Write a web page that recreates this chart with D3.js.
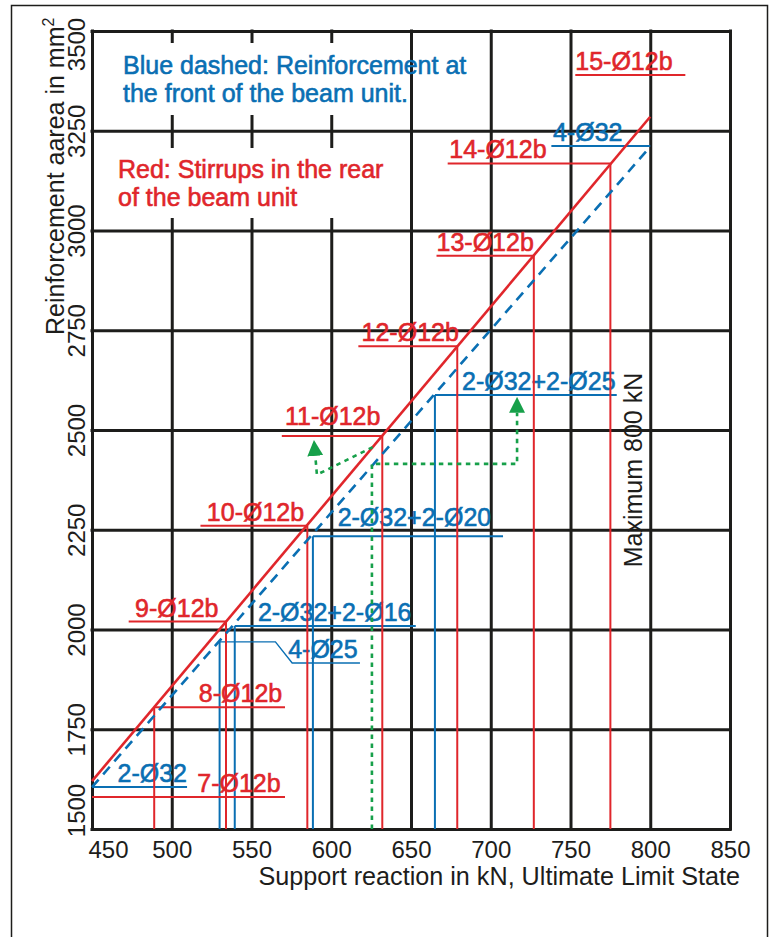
<!DOCTYPE html>
<html>
<head>
<meta charset="utf-8">
<script src="https://cdn.jsdelivr.net/npm/d3@7"></script>
<style>
  body { margin: 0; background: #fff; }
  text { font-family: "Liberation Sans", Arial, sans-serif; }
</style>
</head>
<body>
<div id="chart"></div>
<script>
// axis ticks
var xTicks = [450, 500, 550, 600, 650, 700, 750, 800, 850];
var yTicks = [1500, 1750, 2000, 2250, 2500, 2750, 3000, 3250, 3500];

// design lines: [support reaction kN, area mm2]
var stirrupLine = [[450, 1620], [800, 3285]];
var barLine = [[450, 1605], [800, 3210]];

// red: stirrups in the rear of the beam unit
var stirrupLabels = ["7-Ø12b", "8-Ø12b", "9-Ø12b", "10-Ø12b", "11-Ø12b", "12-Ø12b", "13-Ø12b", "14-Ø12b", "15-Ø12b"];
var stirrupArea = [1580, 1805, 2020, 2260, 2485, 2710, 2937, 3168, 3390];
var stirrupReaction = [null, 489, 534, 585, 632, 679, 727, 775, null];
var stirrupFrom = [450, 489, 473, 518, 569, 617, 666, 673, 753];
var stirrupTo = [571, 571, 534, 585, 632, 679, 727, 775, 822];
var stirrupLabelAt = [516, 517, 477, 522, 571, 619, 666, 674, 753];

// blue: reinforcement at the front of the beam unit
var barLabels = ["2-Ø32", "4-Ø25", "2-Ø32+2-Ø16", "2-Ø32+2-Ø20", "2-Ø32+2-Ø25", "4-Ø32"];
var barArea = [1605, 1969, 2009, 2234, 2588, 3212];
var barReaction = [null, 530, 539.5, 588.5, 665, null];
var barFrom = [450, null, 539.5, 588.5, 665, 738];
var barTo = [509.6, null, 653, 707.7, 779, 800];
var barLabelAt = [466, 573, 554, 604, 682, 739];
var leader4025 = [[530, 1969], [565, 1969], [575.5, 1916], [618, 1916]];

// green example path
var greenUp = [[625.5, 1500], [625.5, 2415], [716.5, 2415], [716.5, 2543]];
var greenBack = [[626, 2457], [591, 2388], [590, 2435]];

var ink = "#1d1d1b", red = "#e0262b", blue = "#0a6fb3", green = "#17a04a";

var svg = d3.select("#chart")
  .append("svg")
    .attr("width", 772)
    .attr("height", 937);

// outer frame
svg.append("rect")
  .attr("x", 11.5).attr("y", 5.5)
  .attr("width", 756).attr("height", 1000)
  .attr("fill", "none").attr("stroke", ink).attr("stroke-width", 1.5);

var x = d3.scaleLinear().domain([450, 850]).range([92, 730]);
var y = d3.scaleLinear().domain([1500, 3500]).range([829, 31]);

var arrow = svg.append("defs").append("marker")
  .attr("id", "arrow")
  .attr("viewBox", "0 0 10 10")
  .attr("refX", 0).attr("refY", 5)
  .attr("markerUnits", "userSpaceOnUse")
  .attr("markerWidth", 16).attr("markerHeight", 16)
  .attr("orient", "auto");
arrow.append("path").attr("d", "M0,0L10,5L0,10Z").attr("fill", green);

// X axis + vertical grid
var xAxis = svg.append("g")
  .attr("transform", "translate(0," + y(1500) + ")")
  .call(d3.axisBottom(x).tickValues(xTicks).tickSize(-(y(1500) - y(3500))).tickFormat(d3.format("d")));
xAxis.attr("font-size", 24).attr("font-family", "Liberation Sans, Arial, sans-serif");
xAxis.select(".domain").remove();
xAxis.selectAll(".tick line")
  .attr("stroke", ink).attr("stroke-width", 3).attr("stroke-linecap", "square");
xAxis.selectAll(".tick text")
  .attr("fill", ink)
  .attr("y", 29).attr("dy", 0)
  .attr("dx", function(d, i) { return i === 0 ? 16 : 0; });

// Y axis + horizontal grid
var yAxis = svg.append("g")
  .attr("transform", "translate(" + x(450) + ",0)")
  .call(d3.axisLeft(y).tickValues(yTicks).tickSize(-(x(850) - x(450))).tickFormat(d3.format("d")));
yAxis.attr("font-size", 24).attr("font-family", "Liberation Sans, Arial, sans-serif");
yAxis.select(".domain").remove();
yAxis.selectAll(".tick line")
  .attr("stroke", ink).attr("stroke-width", 3).attr("stroke-linecap", "square");
yAxis.selectAll(".tick text")
  .attr("fill", ink)
  .attr("text-anchor", "middle")
  .attr("transform", "translate(-7,0) rotate(-90)")
  .attr("y", 0).attr("dy", 0)
  .attr("x", function(d, i) { return i === 0 ? 19 : (i === yTicks.length - 1 ? -13 : 0); });

// axis titles
svg.append("text")
  .attr("x", 740).attr("y", 885)
  .attr("text-anchor", "end")
  .attr("font-size", 25.2).attr("fill", ink)
  .text("Support reaction in kN, Ultimate Limit State");

var yTitle = svg.append("text")
  .attr("transform", "translate(64,335) rotate(-90)")
  .attr("font-size", 25).attr("fill", ink)
  .text("Reinforcement aarea in mm");
yTitle.append("tspan").attr("dy", -10).attr("font-size", 16).text("2");

// legend boxes knock out the grid
svg.append("rect").attr("x", 96).attr("y", 43).attr("width", 305).attr("height", 72).attr("fill", "#fff");
svg.append("rect").attr("x", 96).attr("y", 148).attr("width", 305).attr("height", 70).attr("fill", "#fff");

function colourText(xp, yp, colour, str) {
  return svg.append("text")
    .attr("x", xp).attr("y", yp)
    .attr("font-size", 25)
    .attr("fill", colour).attr("stroke", colour).attr("stroke-width", 0.6)
    .text(str);
}

colourText(123, 74, blue, "Blue dashed: Reinforcement at");
colourText(123, 102, blue, "the front of the beam unit.");
colourText(118, 178, red, "Red: Stirrups in the rear");
colourText(118, 206, red, "of the beam unit");

svg.append("text")
  .attr("transform", "translate(642,470) rotate(-90)")
  .attr("text-anchor", "middle")
  .attr("font-size", 25).attr("fill", ink)
  .text("Maximum 800 kN");

var line = d3.line()
  .x(function(d) { return x(d[0]); })
  .y(function(d) { return y(d[1]); });

var lift = {"11-Ø12b": 11, "2-Ø32+2-Ø20": 10};

// blue bars: verticals, underlines, labels
barLabels.forEach(function(lbl, i) {
  if (barReaction[i] !== null) {
    svg.append("path")
      .attr("d", line([[barReaction[i], barArea[i]], [barReaction[i], 1500]]))
      .attr("stroke", blue).attr("stroke-width", 2).attr("fill", "none");
  }
  var level = barArea[i];
  if (barFrom[i] !== null) {
    svg.append("path")
      .attr("d", line([[barFrom[i], level], [barTo[i], level]]))
      .attr("stroke", blue).attr("stroke-width", 2).attr("fill", "none");
  } else {
    level = leader4025[leader4025.length - 1][1];
    svg.append("path")
      .attr("d", line(leader4025))
      .attr("stroke", blue).attr("stroke-width", 1.4).attr("fill", "none");
  }
  colourText(x(barLabelAt[i]), y(level) - (lift[lbl] || 5), blue, lbl);
});

// red stirrups: verticals, underlines, labels
stirrupLabels.forEach(function(lbl, i) {
  if (stirrupReaction[i] !== null) {
    svg.append("path")
      .attr("d", line([[stirrupReaction[i], stirrupArea[i]], [stirrupReaction[i], 1500]]))
      .attr("stroke", red).attr("stroke-width", 2).attr("fill", "none");
  }
  svg.append("path")
    .attr("d", line([[stirrupFrom[i], stirrupArea[i]], [stirrupTo[i], stirrupArea[i]]]))
    .attr("stroke", red).attr("stroke-width", 2).attr("fill", "none");
  colourText(x(stirrupLabelAt[i]), y(stirrupArea[i]) - (lift[lbl] || 5), red, lbl);
});

// blue dashed design line
svg.append("path")
  .attr("d", line(barLine))
  .attr("stroke", blue).attr("stroke-width", 2.6)
  .attr("stroke-dasharray", "10,7").attr("fill", "none");

// red design line
svg.append("path")
  .attr("d", line(stirrupLine))
  .attr("stroke", red).attr("stroke-width", 2.6).attr("fill", "none");

// green reading example
[greenUp, greenBack].forEach(function(p) {
  svg.append("path")
    .attr("d", line(p))
    .attr("stroke", green).attr("stroke-width", 2.6)
    .attr("stroke-dasharray", "4.5,4.5").attr("fill", "none")
    .attr("marker-end", "url(#arrow)");
});
</script>
</body>
</html>
